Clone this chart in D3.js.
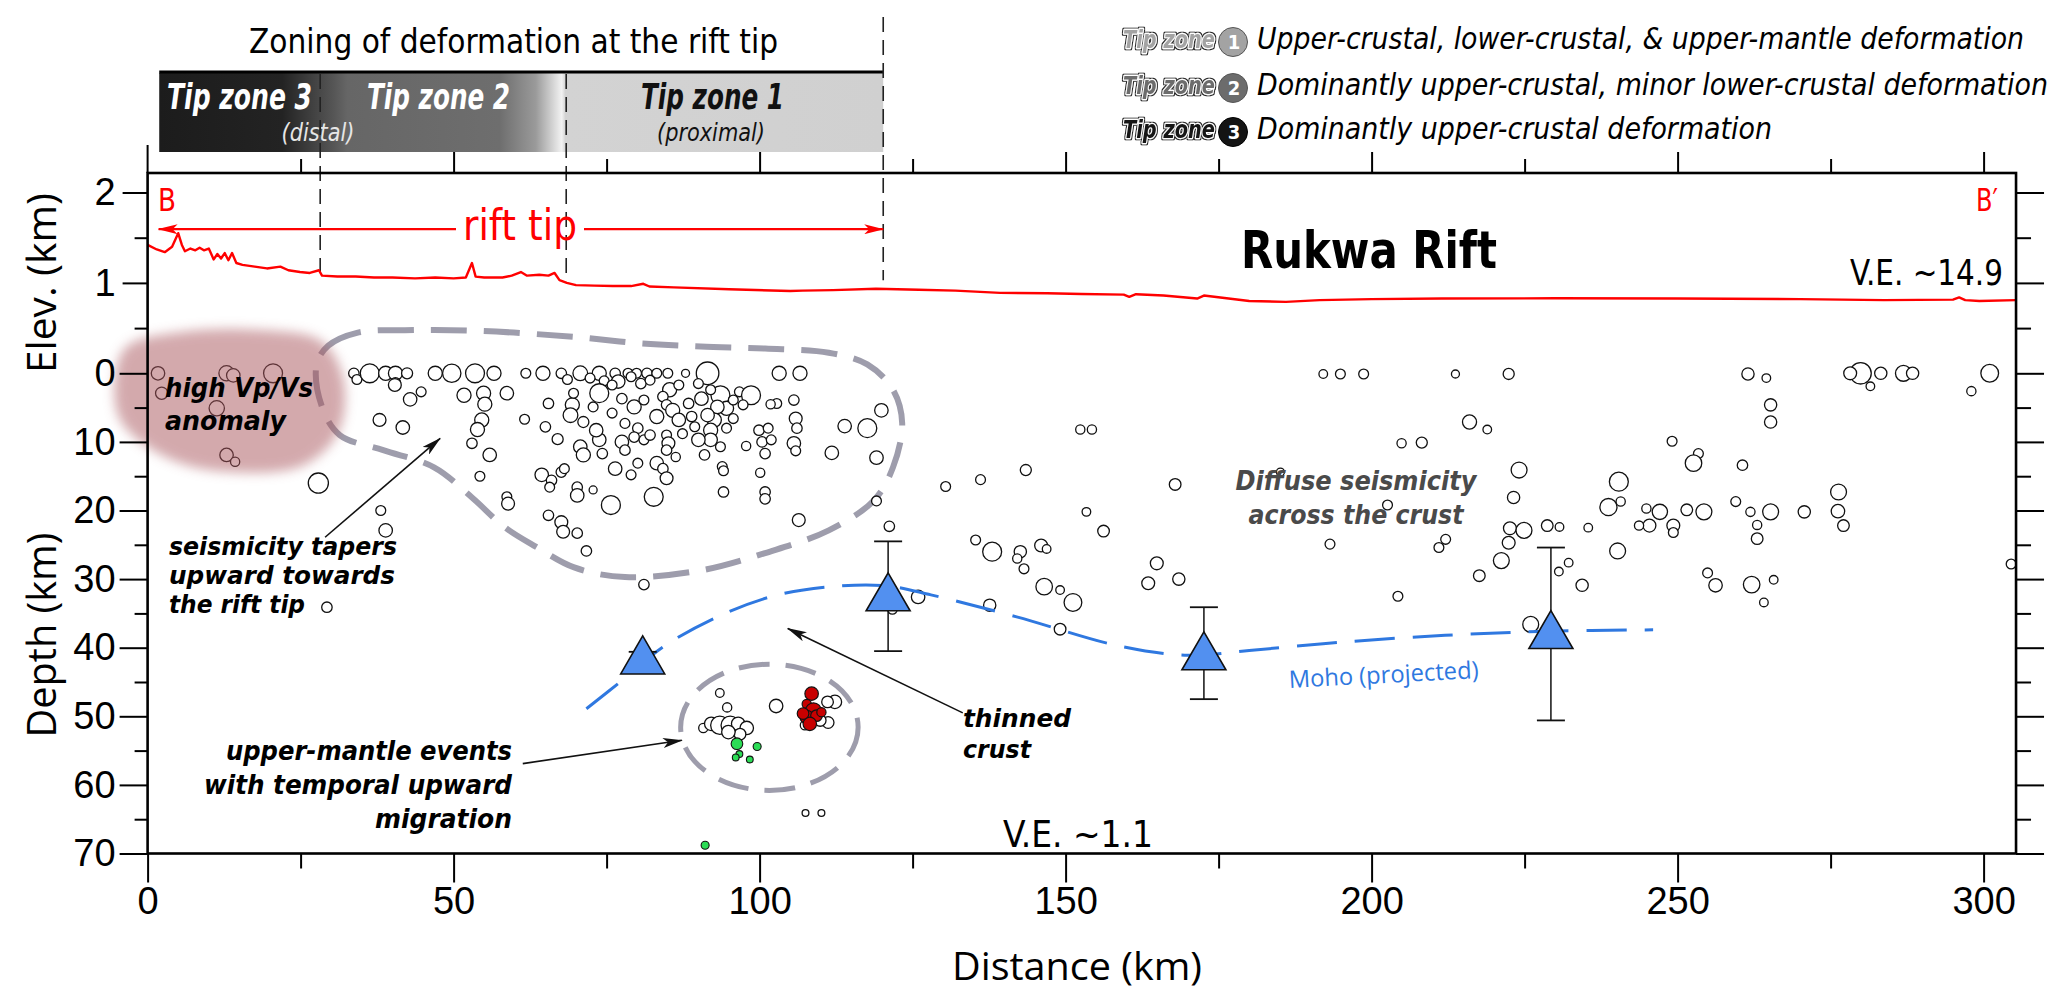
<!DOCTYPE html>
<html><head><meta charset="utf-8">
<script src="https://cdn.jsdelivr.net/npm/d3@7"></script>
<style>
html,body{margin:0;padding:0;background:#fff;}
svg{display:block;}
</style></head><body>
<svg id="chart" width="2067" height="1007"></svg>
<script>
// ---------------- DATA ----------------
const xTicks = [0, 50, 100, 150, 200, 250, 300];
const xMinorTicks = [25, 75, 125, 175, 225, 275];
const depthTicks = [0, 10, 20, 30, 40, 50, 60, 70];
const depthMinorTicks = [5, 15, 25, 35, 45, 55, 65];
const elevTicks = [1, 2];
const elevMinorTicks = [0.5, 1.5];

// topographic profile (distance km, elevation km)
const elevDist = [0,1.5,2.8,4.0,5.0,5.6,6.1,7.0,7.8,8.5,9.2,10.0,10.8,11.4,12.0,12.6,13.2,13.8,14.5,15.5,17.5,19.5,21.7,23.0,24.9,26.5,28.0,28.5,31.0,34.0,37.0,40.0,43.7,47.0,50.0,52.0,53.0,53.6,55.0,58.0,59.5,61.0,62.0,64.0,65.5,66.5,67.3,68.5,70.0,73.0,76.0,79.0,81.0,82.0,86.0,95.0,105.0,107.0,112.0,119.0,126.0,132.0,139.3,147.0,152.6,159.5,160.4,161.5,166.0,171.5,172.6,180.0,186.0,191.5,200.0,211.5,230.0,250.0,270.0,283.7,295.0,296.0,297.0,299.3,305.3];
const elevKm = [1.42,1.37,1.34,1.40,1.55,1.42,1.35,1.38,1.36,1.39,1.36,1.38,1.26,1.32,1.27,1.33,1.25,1.33,1.22,1.20,1.18,1.16,1.18,1.14,1.12,1.11,1.14,1.08,1.07,1.07,1.06,1.06,1.05,1.06,1.05,1.06,1.22,1.07,1.06,1.06,1.08,1.12,1.08,1.09,1.08,1.11,1.03,1.00,0.975,0.97,0.965,0.965,0.99,0.96,0.95,0.93,0.91,0.915,0.92,0.935,0.925,0.915,0.89,0.885,0.877,0.87,0.845,0.875,0.86,0.827,0.86,0.80,0.79,0.81,0.82,0.827,0.83,0.827,0.82,0.81,0.815,0.84,0.81,0.80,0.81];

// crustal earthquakes [distance km, depth km, magnitude]
const crustEvents = [
[1.7,0,2.1],[2.3,2.9,1.9],[12.9,0,2.4],[14,0.3,2.1],[20.5,0,3.0],[11.3,5.1,2.4],[12.9,11.9,2.1],[14.3,12.9,1.4],
[27.9,16,3.2],[33.7,0,1.6],[34.2,0.9,1.5],[36.3,0,3.0],[38.9,0,2.2],[40.5,0,2.2],[42.4,0,1.7],[40.5,1.4,1.6],[40.4,1.7,2.0],
[37.9,6.8,2.0],[41.7,7.9,2.1],[44.7,2.7,1.5],[42.9,3.8,2.1],
[47,0,2.2],[49.7,0,2.9],[53.5,0,3.0],[56.6,0,2.2],[51.7,3.2,2.2],[54.9,2.9,2.2],[55.1,4.5,2.2],[58.7,2.9,2.1],
[54.6,6.8,2.2],[53.9,8.2,2.2],[53,10.2,1.6],[55.9,11.9,2.1],[54.3,15,1.5],[58.7,18,1.5],[58.9,19,2.0],
[61.6,6.7,1.5],[61.8,0,1.5],[64.6,0,2.2],[67.6,0,1.6],[70.7,0,2.3],[65,7.8,1.6],[67,9.6,1.7],[65.5,4.4,1.6],[69.4,4.6,2.2],[69.1,6.1,2.3],[71.2,7.1,1.7],[70.7,10.7,2.1],[71.2,11.9,2.2],[73.8,9.7,2.1],[74.3,11.7,1.6],
[64.4,14.8,2.1],[66,15.6,1.6],[67.6,14.4,1.6],[68.1,13.9,1.5],[65.7,16.6,1.5],[70.2,16.6,1.6],[70.2,17.8,2.1],[72.8,17,1.2],[75.7,19.2,3.0],
[65.5,20.7,1.6],[67.6,21.7,2.0],[67.9,23.1,2.0],[70.2,23.3,1.6],[71.7,25.9,1.6],
[73.8,0,2.2],[74.6,1.1,1.5],[76.4,0,1.6],[78.5,0,1.5],[79.9,0,1.5],[81.6,0,1.6],[83.2,0,1.5],[85,0,1.5],[87.9,0,1.2],
[73.8,2.9,3.0],[76.9,1.2,2.1],[77.5,3.7,1.6],[79.5,4.9,2.2],[80.6,1.5,1.6],[82.1,1.0,1.5],[85.3,2.4,2.2],[84.2,3.4,1.6],[84.8,4.6,1.6],[83.2,6.3,2.2],[85.8,5.4,2.2],[88.4,4.4,1.6],[88.9,6.3,1.6],
[91.5,0,3.6],[93.6,3.2,3.0],[94.6,5.1,2.2],[92.6,6.8,2.2],[92,8.3,2.2],[92,9.7,2.1],[91,11.9,1.6],[94.6,8,1.5],[96.7,2.7,1.5],[98.6,3.2,3.0],
[80.1,8,1.6],[79.5,9.3,1.6],[81.1,9.7,1.5],[82.1,9,1.6],[77.5,10,2.1],[78,11.2,1.6],[84.8,9,1.5],[85.1,10.2,2.0],[84.8,11.2,1.6],[86.3,12.2,1.4],[83.2,13.1,2.1],[84.2,13.9,1.6],[84.8,15.3,2.0],[82.7,18,3.0],
[93.9,13.6,1.5],[94.1,14.2,1.5],[94.1,17.3,1.6],
[99.9,8.3,1.6],[101.4,8,1.5],[100.4,10,1.6],[101.9,9.7,1.5],[100.9,11.7,1.6],[97.8,10.6,1.4],[100.1,14.5,1.4],[100.9,17.3,1.6],[100.9,18.3,1.6],
[102.8,4.4,1.5],[101.8,4.5,1.4],[105.6,3.9,1.6],[105.9,6.6,2.0],[106.1,8,1.6],[105.6,10.2,2.1],[105.9,11.3,1.5],[103.2,0,2.2],[106.6,0,2.2],[106.4,21.4,2.0],
[111.8,11.6,2.1],[113.9,7.7,2.1],[117.6,8,3.0],[119.9,5.4,2.1],[119.1,12.3,2.1],[119.1,18.6,1.5],[121.2,22.3,1.6],
[68.6,0.9,1.5],[72.3,0.7,1.5],[75.9,1.7,1.5],[79,0.5,1.5],[86.8,1.7,1.5],[90,1.5,1.5],[90.5,3.7,2.1],[92,2.4,1.5],[93.1,4.9,2.1],[91.5,6.1,2.1],[89.4,7.8,1.5],[95.7,6.6,1.5],[90,9.7,2.1],[78,7.3,1.5],[75.9,5.8,1.5],[72.8,4.9,1.5],[81.1,3.9,1.5],[86.8,6.8,2.1],[87.4,8.8,1.5],[93.6,10.7,1.5],[69.6,2.9,1.5],[73.3,8.3,2.1],[80.1,13.1,1.5],[76.4,13.9,2.1],[79,14.8,1.5],[95.7,3.9,1.5],[97.3,4.6,1.5],
[29.3,34.1,1.6],[38.1,20,1.5],[38.9,22.9,2.1],[81.1,30.8,1.6],
[130.4,16.5,1.5],[136.1,15.5,1.5],[135.3,24.3,1.5],[137.6,33.8,1.9],[125.9,32.6,2.1],[121.7,34.4,1.5],
[192.1,0.1,1.3],[194.9,0.1,1.5],[198.7,0.1,1.5],[213.7,0.1,1.2],[222.4,0.1,1.7],
[261.5,0.1,1.9],[264.5,0.7,1.3],[279.9,0,3.4],[278.2,0,2.0],[283.2,0,1.9],[281.5,1.9,1.3],[286.9,0,2.5],[288.4,0,1.9],[301,0,2.8],[298,2.6,1.4],
[265.2,4.6,1.9],[265.2,7.1,1.9],[152.4,8.2,1.4],[154.3,8.2,1.4],[216,7.1,2.2],[218.9,8.2,1.3],[204.9,10.2,1.4],[208.2,10.1,1.7],
[249.1,9.9,1.5],[253.4,11.7,1.5],[252.6,13.1,2.6],[260.6,13.4,1.6],
[143.5,14.1,1.7],[167.9,16.2,1.8],[185.1,14.4,1.2],[224.1,14.1,2.5],[240.4,15.8,3.0],[223.2,18.1,1.9],
[153.4,20.2,1.3],[156.2,23,1.8],[202.6,19.2,1.5],[276.3,17.3,2.5],[276.2,20.1,2.1],[277.1,22.2,1.8],
[259.5,18.7,1.5],[261.9,20.2,1.4],[265.2,20.2,2.5],[270.7,20.2,1.9],[254.3,20.2,2.5],[251.5,19.9,1.8],[247.1,20.2,2.4],[244.9,19.7,1.4],[245.4,22.2,2.0],[243.7,22.2,1.4],[249.3,22.2,2.0],[249.3,23.2,1.5],
[238.7,19.5,2.7],[240.7,18.7,1.4],[263,22.1,1.4],[263,24.1,1.8],[235.4,22.5,1.3],[228.7,22.2,1.8],[230.7,22.4,1.3],[222.6,22.6,2.0],[224.9,22.9,2.5],[222.4,24.7,2.0],[221.2,27.3,2.5],[217.6,29.5,1.8],
[212.1,24.2,1.5],[211,25.4,1.5],[193.2,24.9,1.5],[240.2,25.9,2.5],[230.6,28.9,1.3],[232.2,27.6,1.3],[234.4,30.9,1.9],
[254.9,29.1,1.5],[256.2,30.9,2.1],[262.1,30.8,2.6],[265.7,30.1,1.3],[264.1,33.4,1.3],[204.3,32.5,1.5],[304.5,27.8,1.5],
[138,26,3.0],[142.6,26,1.9],[142.1,27,1.4],[146,25.1,2.0],[146.9,25.6,1.3],[143.2,28.5,1.5],
[146.5,31.1,2.6],[149.1,31.6,1.3],[151.2,33.4,2.8],[164.9,27.7,2.0],[163.5,30.6,2.0],[168.5,30,1.9],[226,36.6,2.5],[149.1,37.3,1.8]
];
// upper-mantle events
const mantleEvents = [[93.5,46.6,1.3],[94.7,48.7,1.4],[90.8,51.7,1.4],[92.1,51.1,2.1],[93.5,51.3,2.9],[95.2,51.3,2.9],[96.5,51.1,2.1],[97.9,51.7,2.1],[96.8,52.6,1.8],[94.9,52.3,2.1],[102.7,48.5,2.1],[112.3,47.9,2.1],[111.1,47.9,1.8],[111.2,50.9,1.8],[107.4,51.3,1.4],[109.9,50.6,1.8],[107.5,64.1,1.0],[110.1,64.1,1.0]];
const redEvents = [[108.5,46.7,2.1],[107.7,48.2,1.4],[108.8,49.2,2.5],[107.7,50.1,2.1],[109.3,49.9,1.8],[110.1,49.4,1.4],[108.2,51.1,2.1],[107.1,49.6,1.8]];
const greenEvents = [[96.3,54,1.8],[99.6,54.4,1.2],[96.7,55.5,1.0],[96.1,56,1.0],[98.4,56.3,1.0],[91.1,68.8,1.2]];

// Moho estimates
const mohoDist = [80.9, 121, 172.6, 229.3];
const mohoDepth = [41.2, 32.0, 40.6, 37.5];
const mohoErrTop = [40.6, 24.5, 34.1, 25.4];
const mohoErrBottom = [41.9, 40.5, 47.5, 50.6];
const mohoLineDist = [71.7,77.5,84.2,93.6,103,113,121,128,142,159,170,180,195,212,229,246];
const mohoLineDepth = [48.9,44.8,39.9,35.3,32.3,31.0,31.0,32.3,35.5,39.8,41.1,40.4,39.2,38.2,37.6,37.4];

// zones
const zoneBounds = [1.9, 28.2, 68.4, 120.2];
const zoneNames = ["Tip zone 3", "Tip zone 2", "Tip zone 1"];
const legendNums = ["1", "2", "3"];
const legendLabels = ["Upper-crustal, lower-crustal, & upper-mantle deformation",
  "Dominantly upper-crustal, minor lower-crustal deformation",
  "Dominantly upper-crustal deformation"];

// annotation outlines (distance km, depth km; negative = above sea level)
const taperShape = [[27.6,-1.2],[29.5,-4.0],[34.2,-5.9],[43.6,-6.3],[54.0,-6.2],[69.7,-5.3],[80.2,-4.4],[90.4,-3.9],[100.9,-3.6],[111.3,-3.0],[117.6,-1.3],[121.8,2.4],[123.3,7.3],[121.8,13.7],[118.7,18.5],[111.3,22.9],[100.9,26.2],[90.6,28.7],[78.0,29.7],[69.7,28.3],[63.5,25.3],[58.3,22.4],[53.0,18.1],[46.8,13.7],[38.5,11.2],[31.4,9.0],[28.5,4.9]];
const anomalyShape = [[-3.5,-3.8],[5.3,-6.0],[18.4,-6.3],[28.5,-4.6],[32.0,1.0],[31.2,8.5],[25.5,13.4],[13.5,14.4],[3.7,12.5],[-4.2,7.2],[-5.4,1.7]];

// ---------------- CHART ----------------
const NARROW = "'Liberation Sans Narrow','DejaVu Sans Condensed','Arial Narrow',sans-serif";
const REG = "'Open Sans','Liberation Sans',sans-serif";
const TICKF = "'Liberation Sans',Arial,sans-serif";

const svg = d3.select('#chart');
const xMax = 305.3;
const x = d3.scaleLinear().domain([0, 300]).range([147.6, 1983.6]);
const yDepth = d3.scaleLinear().domain([0, 70]).range([373.3, 853.5]);
const yElev = d3.scaleLinear().domain([0, 2]).range([373.3, 192.5]);
const rScale = d3.scaleLinear().domain([1, 4]).range([3.4, 12.5]);

const defs = svg.append('defs');
const grad = defs.append('linearGradient').attr('id', 'zoneGrad')
  .attr('gradientUnits', 'userSpaceOnUse')
  .attr('x1', x(zoneBounds[0])).attr('x2', x(zoneBounds[3])).attr('y1', 0).attr('y2', 0);
[[0,'#1c1c1c'],[0.17,'#232323'],[0.24,'#555'],[0.26,'#666'],[0.47,'#6e6e6e'],[0.52,'#9a9a9a'],[0.556,'#f2f2f2'],[0.561,'#d3d3d3'],[1,'#d0d0d0']]
  .forEach(s => grad.append('stop').attr('offset', s[0]).attr('stop-color', s[1]));
defs.append('filter').attr('id', 'blur').attr('x', '-30%').attr('y', '-30%').attr('width', '160%').attr('height', '160%')
  .append('feGaussianBlur').attr('stdDeviation', 6);
const outl = defs.append('filter').attr('id', 'outline').attr('x', '-10%').attr('y', '-30%').attr('width', '120%').attr('height', '160%');
outl.append('feMorphology').attr('in', 'SourceAlpha').attr('operator', 'dilate').attr('radius', 1.4).attr('result', 'dil');
outl.append('feFlood').attr('flood-color', '#2a2a2a').attr('result', 'fl');
outl.append('feComposite').attr('in', 'fl').attr('in2', 'dil').attr('operator', 'in').attr('result', 'ring');
const mg = outl.append('feMerge');
mg.append('feMergeNode').attr('in', 'ring');
mg.append('feMergeNode').attr('in', 'SourceGraphic');
function marker(id, color) {
  defs.append('marker').attr('id', id).attr('viewBox', '0 0 20 10').attr('refX', 19).attr('refY', 5)
    .attr('markerUnits', 'userSpaceOnUse').attr('markerWidth', 20).attr('markerHeight', 10)
    .attr('orient', 'auto-start-reverse')
    .append('path').attr('d', 'M0,0 L20,5 L0,10 L5,5 Z').attr('fill', color);
}
marker('arrowK', '#111');
marker('arrowR', '#ff0000');

function txt(o) {
  const t = svg.append('text').attr('x', o.x).attr('y', o.y).text(o.t)
    .attr('font-family', o.f || NARROW).attr('font-size', o.s)
    .attr('fill', o.c || '#000').attr('text-anchor', o.a || 'start');
  if (o.w) t.attr('font-weight', o.w);
  if (o.i) t.attr('font-style', 'italic');
  if (o.len) t.attr('textLength', o.len).attr('lengthAdjust', 'spacingAndGlyphs');
  if (o.rot) t.attr('transform', `rotate(${o.rot},${o.x},${o.y})`);
  return t;
}
// multi-line text block: each line its own text, sized so the lines do not collide
function mtxt(o) {
  o.lines.forEach(l => txt({x: o.x, y: l[1], t: l[0], s: o.s, w: o.w, i: o.i, c: o.c, a: o.a, len: l[2]}));
}

// ---- Zoning box ----
txt({x: 249, y: 53, t: 'Zoning of deformation at the rift tip', s: 34, len: 529});
svg.append('rect').attr('x', x(zoneBounds[0])).attr('y', 73)
  .attr('width', x(zoneBounds[3]) - x(zoneBounds[0])).attr('height', 79).attr('fill', 'url(#zoneGrad)');
svg.append('line').attr('x1', x(zoneBounds[0])).attr('x2', x(zoneBounds[3])).attr('y1', 72).attr('y2', 72)
  .attr('stroke', '#000').attr('stroke-width', 3);
txt({x: 167, y: 109, t: zoneNames[0], s: 36, w: 'bold', i: true, c: '#fff', len: 145});
txt({x: 367, y: 109, t: zoneNames[1], s: 36, w: 'bold', i: true, c: '#fff', len: 143});
txt({x: 641, y: 109, t: zoneNames[2], s: 36, w: 'bold', i: true, c: '#111', len: 143});
txt({x: 318, y: 141, t: '(distal)', s: 25, i: true, c: '#e6e6e6', a: 'middle', len: 73});
txt({x: 711, y: 141, t: '(proximal)', s: 25, i: true, c: '#111', a: 'middle', len: 108});

// zone boundary dashed lines
[[zoneBounds[1], 74, 1.09], [zoneBounds[2], 74, 1.04], [zoneBounds[3], 17, 1.03]].forEach(d => {
  svg.append('line').attr('x1', x(d[0])).attr('x2', x(d[0])).attr('y1', d[1]).attr('y2', yElev(d[2]))
    .attr('stroke', '#222').attr('stroke-width', 1.6).attr('stroke-dasharray', '15 8');
});

// ---- Legend ----
const legFill = ['#a3a3a3', '#6c6c6c', '#141414'];
const legBase = [49, 95, 139];
legendLabels.forEach((lab, i) => {
  const by = legBase[i];
  svg.append('circle').attr('cx', 1233).attr('cy', by - 7).attr('r', 14.5).attr('fill', legFill[i])
    .attr('stroke', i === 2 ? '#000' : '#555').attr('stroke-width', 1);
  txt({x: 1123, y: by - 1, t: 'Tip zone', s: 25, w: 'bold', i: true, c: legFill[i], len: 92})
    .attr('stroke', '#fff').attr('stroke-width', 2.4).attr('stroke-linejoin', 'round').attr('paint-order', 'stroke')
    .attr('filter', 'url(#outline)');
  txt({x: 1234, y: by, t: legendNums[i], s: 20, w: 'bold', c: '#fff', a: 'middle'});
  txt({x: 1257, y: by, t: lab, s: 30, i: true, len: [767, 791, 515][i]});
});

// ---- seismicity outlines ----
const shapeLine = d3.line().x(d => x(d[0])).y(d => yDepth(d[1])).curve(d3.curveCatmullRomClosed.alpha(0.5));
svg.append('path').attr('d', shapeLine(taperShape)).attr('fill', 'none')
  .attr('stroke', '#9e9dac').attr('stroke-width', 6).attr('stroke-dasharray', '36 17');
svg.append('ellipse').attr('cx', x(101.6)).attr('cy', yDepth(51.6))
  .attr('rx', x(14.5) - x(0)).attr('ry', yDepth(9.2) - yDepth(0))
  .attr('fill', 'none').attr('stroke', '#9e9dac').attr('stroke-width', 5).attr('stroke-dasharray', '31 16');

// ---- Topography ----
const elevPts = elevDist.map((d, i) => [d, elevKm[i]]);
svg.append('path').attr('d', d3.line().x(d => x(d[0])).y(d => yElev(d[1]))(elevPts))
  .attr('fill', 'none').attr('stroke', '#ff0000').attr('stroke-width', 2.4).attr('stroke-linejoin', 'round');

// rift tip arrow
const ay = yElev(1.594);
svg.append('line').attr('x1', x(1.8)).attr('x2', 456).attr('y1', ay).attr('y2', ay)
  .attr('stroke', '#ff0000').attr('stroke-width', 2.2).attr('marker-start', 'url(#arrowR)');
svg.append('line').attr('x1', 584).attr('x2', x(120.2)).attr('y1', ay).attr('y2', ay)
  .attr('stroke', '#ff0000').attr('stroke-width', 2.2).attr('marker-end', 'url(#arrowR)');
txt({x: 520, y: 240, t: 'rift tip', s: 42, c: '#ff0000', a: 'middle', len: 114});
txt({x: 158, y: 211, t: 'B', s: 32, c: '#ff0000', len: 18});
txt({x: 1998, y: 211, t: 'B\u2032', s: 32, c: '#ff0000', a: 'end', len: 22});
txt({x: 1241, y: 268, t: 'Rukwa Rift', s: 52, w: 'bold', len: 256});
txt({x: 2003, y: 285, t: 'V.E. ~14.9', s: 35, a: 'end', len: 153});
txt({x: 1003, y: 847, t: 'V.E. ~1.1', s: 37, len: 150});

// ---- Earthquakes ----
function quakes(data, fill, sw) {
  svg.append('g').selectAll('circle').data(data).join('circle')
    .attr('cx', d => x(d[0])).attr('cy', d => yDepth(d[1])).attr('r', d => rScale(d[2]))
    .attr('fill', fill).attr('stroke', '#111').attr('stroke-width', sw);
}
quakes(crustEvents, '#fff', 1.3);
quakes(mantleEvents, '#fff', 1.3);
quakes(redEvents, '#c80000', 1.2);
quakes(greenEvents, '#2bdc55', 1.1);

// anomaly blob on top (semi-transparent)
svg.append('path').attr('d', shapeLine(anomalyShape)).attr('fill', '#a8545c').attr('opacity', 0.5)
  .attr('filter', 'url(#blur)');
mtxt({x: 165, s: 27, w: 'bold', i: true, lines: [['high Vp/Vs', 397, 148], ['anomaly', 430, 121]]});

// ---- Moho ----
const mohoPts = mohoLineDist.map((d, i) => [d, mohoLineDepth[i]]);
svg.append('path').attr('d', d3.line().x(d => x(d[0])).y(d => yDepth(d[1])).curve(d3.curveCatmullRom)(mohoPts))
  .attr('fill', 'none').attr('stroke', '#2f78e0').attr('stroke-width', 3).attr('stroke-dasharray', '40 18');
txt({x: 1384, y: 683, t: 'Moho (projected)', s: 24, f: REG, c: '#2f78e0', a: 'middle', rot: -3, len: 190});

const errG = svg.append('g');
mohoDist.forEach((d, i) => {
  const cx = x(d);
  errG.append('line').attr('x1', cx).attr('x2', cx).attr('y1', yDepth(mohoErrTop[i])).attr('y2', yDepth(mohoErrBottom[i]))
    .attr('stroke', '#111').attr('stroke-width', 1.5);
  [mohoErrTop[i], mohoErrBottom[i]].forEach(v => errG.append('line').attr('x1', cx - 14).attr('x2', cx + 14)
    .attr('y1', yDepth(v)).attr('y2', yDepth(v)).attr('stroke', '#111').attr('stroke-width', 1.8));
});
svg.append('g').selectAll('path').data(mohoDist.map((d, i) => [d, mohoDepth[i]])).join('path')
  .attr('transform', d => `translate(${x(d[0])},${yDepth(d[1])})`)
  .attr('d', 'M0,-20 L22,18 L-22,18 Z').attr('fill', '#5290f0').attr('stroke', '#111').attr('stroke-width', 1.6);

// ---- Annotations ----
function arrow(a, b) {
  svg.append('line').attr('x1', x(a[0])).attr('y1', yDepth(a[1])).attr('x2', x(b[0])).attr('y2', yDepth(b[1]))
    .attr('stroke', '#111').attr('stroke-width', 1.6).attr('marker-end', 'url(#arrowK)');
}
arrow([29, 23.9], [47.8, 9.5]);
arrow([61.3, 56.9], [87.3, 53.5]);
arrow([133.2, 49.5], [104.6, 37.2]);

mtxt({x: 169, s: 24, w: 'bold', i: true, lines: [['seismicity tapers', 555, 228], ['upward towards', 584, 226], ['the rift tip', 613, 136]]});
mtxt({x: 512, s: 27, w: 'bold', i: true, a: 'end', lines: [['upper-mantle events', 760, 286], ['with temporal upward', 794, 308], ['migration', 828, 137]]});
mtxt({x: 963, s: 25, w: 'bold', i: true, lines: [['thinned', 727, 108], ['crust', 758, 68]]});
mtxt({x: 1356, s: 27, w: 'bold', i: true, c: '#4a4a4a', a: 'middle', lines: [['Diffuse seismicity', 490, 241], ['across the crust', 524, 215]]});

// ---- Axes & frame ----
const x0 = x(0), x1 = x(xMax), yTop = yElev(2) - 19.5, yBot = yDepth(70);
function axisG(tr, ax) {
  const g = svg.append('g').attr('transform', tr).call(ax);
  g.select('.domain').remove();
  g.selectAll('line').attr('stroke', '#000').attr('stroke-width', 2);
  g.selectAll('text').attr('font-family', TICKF).attr('font-size', 38).attr('fill', '#000');
  return g;
}
const noLab = () => '';
axisG(`translate(0,${yBot})`, d3.axisBottom(x).tickValues(xTicks).tickSize(29).tickPadding(5).tickFormat(d3.format('d')));
axisG(`translate(0,${yBot})`, d3.axisBottom(x).tickValues(xMinorTicks).tickSize(15).tickFormat(noLab));
axisG(`translate(0,${yTop})`, d3.axisTop(x).tickValues(xTicks.slice(1)).tickSize(21).tickFormat(noLab));
axisG(`translate(0,${yTop})`, d3.axisTop(x).tickValues(xMinorTicks).tickSize(14).tickFormat(noLab));
axisG(`translate(${x0},0)`, d3.axisLeft(yDepth).tickValues(depthTicks).tickSize(28).tickPadding(4).tickFormat(d3.format('d')));
axisG(`translate(${x0},0)`, d3.axisLeft(yDepth).tickValues(depthMinorTicks).tickSize(13).tickFormat(noLab));
axisG(`translate(${x0},0)`, d3.axisLeft(yElev).tickValues(elevTicks).tickSize(25).tickPadding(7).tickFormat(d3.format('d')));
axisG(`translate(${x0},0)`, d3.axisLeft(yElev).tickValues(elevMinorTicks).tickSize(13).tickFormat(noLab));
axisG(`translate(${x1},0)`, d3.axisRight(yDepth).tickValues(depthTicks).tickSize(28).tickFormat(noLab));
axisG(`translate(${x1},0)`, d3.axisRight(yDepth).tickValues(depthMinorTicks).tickSize(15).tickFormat(noLab));
axisG(`translate(${x1},0)`, d3.axisRight(yElev).tickValues(elevTicks).tickSize(28).tickFormat(noLab));
axisG(`translate(${x1},0)`, d3.axisRight(yElev).tickValues(elevMinorTicks).tickSize(15).tickFormat(noLab));

svg.append('rect').attr('x', x0).attr('y', yTop).attr('width', x1 - x0).attr('height', yBot - yTop)
  .attr('fill', 'none').attr('stroke', '#000').attr('stroke-width', 2.6);
svg.append('line').attr('x1', x0).attr('x2', x0).attr('y1', yTop - 28).attr('y2', yTop).attr('stroke', '#000').attr('stroke-width', 2);

// axis titles
txt({x: 56, y: 283, t: 'Elev. (km)', s: 40, f: REG, a: 'middle', rot: -90, len: 180});
txt({x: 56, y: 635, t: 'Depth (km)', s: 40, f: REG, a: 'middle', rot: -90, len: 205});
txt({x: 1077, y: 980, t: 'Distance (km)', s: 38, f: REG, a: 'middle', len: 250});
</script>
</body></html>
